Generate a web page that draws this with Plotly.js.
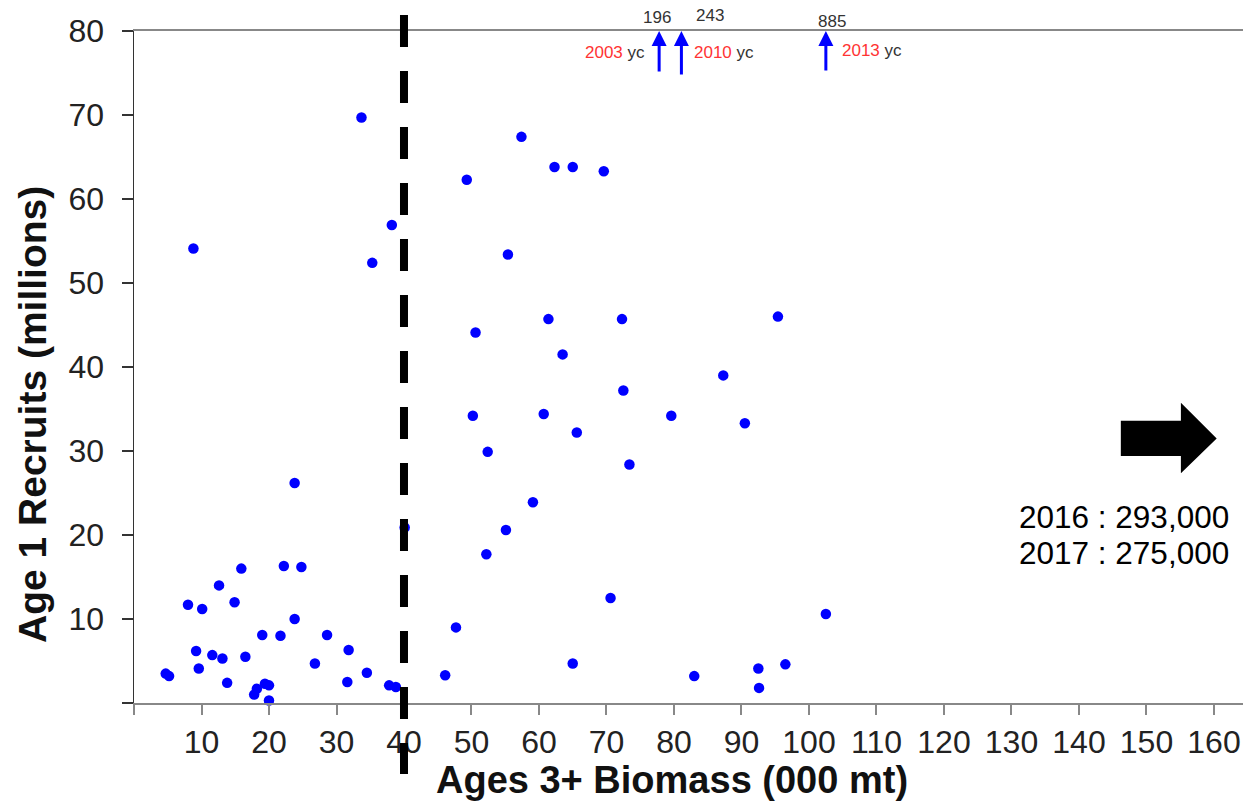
<!DOCTYPE html>
<html>
<head>
<meta charset="utf-8">
<script src="https://cdn.plot.ly/plotly-3.0.1.min.js"></script>
<style>html,body{margin:0;padding:0;background:#fff;}#chart{width:1243px;height:801px;}</style>
</head>
<body>
<div id="chart"></div>
<script>
// Ages 3+ biomass (000 mt) for each year class
const biomass = [33.7, 8.8, 38.2, 35.3,
  4.7, 5.2, 8.0, 10.1, 9.2, 9.6, 11.6, 13.1, 12.6, 13.8, 14.9, 15.9, 16.5, 17.8, 18.2, 19.0,
  19.4, 20.0, 20.0, 21.7, 22.2, 23.8, 23.8, 24.8, 26.8, 28.6, 31.8, 31.6, 34.5, 37.8, 38.8, 40.1, 46.1,
  57.4, 49.3, 62.3, 65.0, 69.6, 55.4, 50.6, 61.4, 72.3, 95.4, 63.5, 87.3, 72.5,
  50.2, 60.7, 79.6, 65.6, 90.5, 52.4, 73.4, 59.1, 55.1, 52.2, 70.6, 102.5, 47.7, 65.0, 83.0, 92.5, 96.5, 92.6];
// Age 1 recruits (millions)
const recruits = [69.7, 54.1, 56.9, 52.4,
  3.5, 3.2, 11.7, 11.2, 6.2, 4.1, 5.7, 5.3, 14.0, 2.4, 12.0, 16.0, 5.5, 1.0, 1.7, 8.1,
  2.3, 2.1, 0.3, 8.0, 16.3, 26.2, 10.0, 16.2, 4.7, 8.1, 6.3, 2.5, 3.6, 2.1, 1.9, 20.9, 3.3,
  67.4, 62.3, 63.8, 63.8, 63.3, 53.4, 44.1, 45.7, 45.7, 46.0, 41.5, 39.0, 37.2,
  34.2, 34.4, 34.2, 32.2, 33.3, 29.9, 28.4, 23.9, 20.6, 17.7, 12.5, 10.6, 9.0, 4.7, 3.2, 4.1, 4.6, 1.8];
// Off-scale year classes
const offBiomass = [77.8, 81.1, 102.5];
const offRecruits = ['196', '243', '885'];
const offYearClass = ['2003', '2010', '2013'];
// Recent years text
const recentYears = ['2016', '2017'];
const recentValues = ['293,000', '275,000'];
// Axis ticks
const xTicks = [0,10,20,30,40,50,60,70,80,90,100,110,120,130,140,150,160];
const yTicks = [0,10,20,30,40,50,60,70,80];
const threshold = 40;

const W = 1243, H = 801;
const M = {l: 134, r: 0, t: 31, b: 98};
const PW = W - M.l - M.r, PH = H - M.t - M.b;
const xRange = [0, 164.3], yRange = [0, 80];
const px = v => (v - M.l) / PW;       // pixel -> paper x
const py = v => (M.t + PH - v) / PH;  // pixel -> paper y
const FONT = 'Liberation Sans, Arial, Helvetica, sans-serif';

const trace = {
  x: biomass, y: recruits, type: 'scatter', mode: 'markers',
  marker: {color: '#0000ff', size: 10.5},
  cliponaxis: false, hoverinfo: 'x+y'
};

const annotations = [];
// arrows for off-scale points
const tails = [42, 45, 41];
offBiomass.forEach((b, i) => {
  annotations.push({xref: 'x', yref: 'paper', x: b, y: 1, ax: 0, ay: tails[i], axref: 'pixel', ayref: 'pixel',
    text: '', showarrow: true, arrowhead: 2, arrowsize: 1, arrowwidth: 3, arrowcolor: '#0000ff', standoff: 0});
});
const numShift = [-2, 29, 6], numY = [18, 15, 21.5];
offBiomass.forEach((b, i) => {
  annotations.push({xref: 'x', yref: 'paper', x: b, y: py(numY[i]), xshift: numShift[i], xanchor: 'center', yanchor: 'middle',
    text: offRecruits[i], showarrow: false, font: {family: FONT, size: 17, color: '#333'}});
});
const ycShift = [-12, 11, 14], ycAnchor = ['right', 'left', 'left'], ycY = [52.5, 52, 50];
offBiomass.forEach((b, i) => {
  annotations.push({xref: 'x', yref: 'paper', x: b, y: py(ycY[i]), xshift: ycShift[i], xanchor: ycAnchor[i], yanchor: 'middle',
    text: '<span style="color:#ff3333">' + offYearClass[i] + '</span> yc', showarrow: false,
    font: {family: FONT, size: 17, color: '#333'}});
});
// recent years text
const lineY = [517, 553];
recentYears.forEach((yr, i) => {
  annotations.push({xref: 'paper', yref: 'paper', x: px(1231), y: py(lineY[i]), xanchor: 'right', yanchor: 'middle',
    text: yr + ' : ' + recentValues[i], showarrow: false, font: {family: FONT, size: 31.5, color: '#000'}});
});
// axis titles
annotations.push({xref: 'paper', yref: 'paper', x: px(672), y: py(780), xanchor: 'center', yanchor: 'middle',
  text: '<b>Ages 3+ Biomass (000 mt)</b>', showarrow: false, font: {family: FONT, size: 38, color: '#111'}});
annotations.push({xref: 'paper', yref: 'paper', x: px(32), y: py(415), xanchor: 'center', yanchor: 'middle', textangle: -90,
  text: '<b>Age 1 Recruits (millions)</b>', showarrow: false, font: {family: FONT, size: 39, color: '#111'}});

const shapes = [
  {type: 'line', xref: 'x', yref: 'paper', x0: threshold, x1: threshold, y0: py(15), y1: py(774),
    line: {color: '#000', width: 8, dash: '32px,24px'}, layer: 'above'},
  {type: 'path', xref: 'x', yref: 'y', layer: 'above', fillcolor: '#000', line: {width: 0},
    path: 'M146.2,33.6 L155.1,33.6 L155.1,35.75 L160.4,31.5 L155.1,27.35 L155.1,29.4 L146.2,29.4 Z'}
];

const layout = {
  width: W, height: H, margin: M, showlegend: false,
  paper_bgcolor: '#fff', plot_bgcolor: '#fff',
  font: {family: FONT, color: '#222'},
  xaxis: {range: xRange, tickmode: 'array', tickvals: xTicks, ticktext: xTicks.map(v => v === 0 ? '' : String(v)),
    ticks: 'outside', ticklen: 10, tickwidth: 2, tickcolor: '#888', showline: true, linecolor: '#888', linewidth: 2,
    mirror: true, showgrid: false, zeroline: false, tickfont: {family: FONT, size: 32, color: '#222'}, automargin: false},
  yaxis: {range: yRange, tickmode: 'array', tickvals: yTicks, ticktext: yTicks.map(v => v === 0 ? '' : String(v)),
    ticks: 'outside', ticklen: 11, tickwidth: 1.5, tickcolor: '#333', showline: true, linecolor: '#333', linewidth: 1.5,
    ticklabelstandoff: 11,
    showgrid: false, zeroline: false, tickfont: {family: FONT, size: 32, color: '#222'}, automargin: false},
  annotations: annotations, shapes: shapes
};

Plotly.newPlot('chart', [trace], layout, {displayModeBar: false, staticPlot: true});
</script>
</body>
</html>
